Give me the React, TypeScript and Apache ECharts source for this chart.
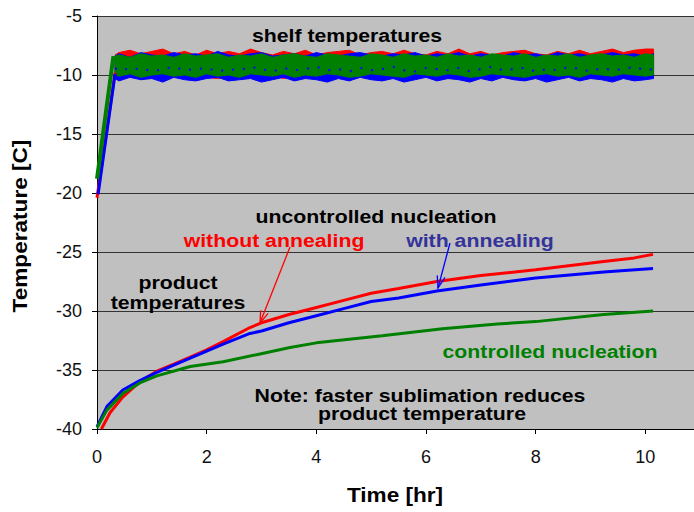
import React, { useEffect, useRef } from 'react';
import * as echarts from 'echarts';

// ---------- data ----------
const yMin = -40;
const yMax = -5;
const yStep = 5;
const xMin = 0;
const xMax = 12;
const xStep = 2;

// product temperatures
const redTime = [0.08, 0.24, 0.47, 0.78, 1.09, 1.4, 1.7, 2.0, 2.3, 2.79, 3.0, 3.5, 4.0, 4.5, 5.0, 5.5, 6.2, 7.0, 8.0, 9.24, 9.8, 10.14];
const redTemp = [-40, -38.6, -37.3, -36.0, -35.1, -34.5, -33.9, -33.3, -32.6, -31.4, -31.0, -30.3, -29.7, -29.1, -28.5, -28.1, -27.5, -27.0, -26.5, -25.8, -25.5, -25.2];

const blueTime = [0, 0.18, 0.47, 0.78, 1.09, 1.7, 2.3, 2.79, 3.0, 3.5, 4.0, 4.5, 5.0, 5.5, 6.2, 7.0, 8.0, 9.24, 10.14];
const blueTemp = [-39.8, -38.1, -36.7, -35.9, -35.2, -34.0, -32.8, -31.9, -31.7, -31.0, -30.4, -29.8, -29.2, -28.9, -28.3, -27.8, -27.2, -26.7, -26.4];

const greenTime = [0, 0.18, 0.47, 0.78, 1.09, 1.7, 2.3, 2.91, 3.52, 4.0, 5.2, 6.3, 7.3, 8.0, 9.24, 10.14];
const greenTemp = [-39.9, -38.4, -37.0, -36.1, -35.5, -34.7, -34.3, -33.7, -33.1, -32.7, -32.1, -31.5, -31.1, -30.9, -30.3, -30.0];

// shelf temperature ramps
const redRampTime = [0, 0.33];
const redRampTemp = [-20.4, -9.8];
const blueRampTime = [0.02, 0.33];
const blueRampTemp = [-20.1, -9.9];
const greenRampTime = [0, 0.3];
const greenRampTemp = [-18.8, -8.4];

// shelf temperature noise envelopes
const shelfTime = [0.33, 0.4, 0.6, 0.8, 1.0, 1.2, 1.4, 1.6, 1.8, 2.0, 2.2, 2.4, 2.6, 2.8, 3.0, 3.2, 3.4, 3.6, 3.8, 4.0, 4.2, 4.4, 4.6, 4.8, 5.0, 5.2, 5.4, 5.6, 5.8, 6.0, 6.2, 6.4, 6.6, 6.8, 7.0, 7.2, 7.4, 7.6, 7.8, 8.0, 8.2, 8.4, 8.6, 8.8, 9.0, 9.2, 9.4, 9.6, 9.8, 10.0, 10.15];
const redUpper = [-8.3, -8.1, -7.9, -8.2, -8.0, -7.8, -8.2, -8.0, -8.3, -7.9, -8.2, -8.0, -8.2, -7.8, -8.1, -8.3, -8.0, -8.2, -7.9, -8.3, -8.1, -8.0, -7.9, -8.3, -8.1, -8.0, -8.2, -7.9, -8.2, -8.3, -8.0, -8.2, -7.8, -8.2, -8.0, -8.3, -8.1, -8.0, -7.9, -8.2, -8.3, -8.0, -8.2, -7.9, -8.2, -8.0, -7.8, -8.1, -7.9, -7.8, -7.8];
const redLower = [-10.1, -10.0, -10.2, -10.1, -10.3, -10.0, -10.2, -10.1, -10.0, -10.2, -10.3, -10.1, -10.0, -10.2, -10.1, -10.0, -10.3, -10.1, -10.2, -10.0, -10.1, -10.2, -10.0, -10.1, -10.3, -10.2, -10.0, -10.1, -10.2, -10.0, -10.1, -10.3, -10.0, -10.2, -10.1, -10.0, -10.2, -10.3, -10.1, -10.0, -10.2, -10.1, -10.0, -10.2, -10.3, -10.1, -10.0, -10.2, -10.1, -10.0, -10.1];
const blueUpper = [-8.4, -8.2, -8.5, -8.1, -8.3, -8.4, -8.1, -8.3, -8.2, -8.4, -8.0, -8.3, -8.4, -8.2, -8.1, -8.4, -8.3, -8.2, -8.4, -8.1, -8.3, -8.4, -8.2, -8.1, -8.3, -8.4, -8.2, -8.3, -8.1, -8.4, -8.2, -8.3, -8.1, -8.4, -8.2, -8.3, -8.4, -8.1, -8.3, -8.2, -8.4, -8.1, -8.3, -8.2, -8.4, -8.3, -8.1, -8.3, -8.2, -8.4, -8.2];
const blueLower = [-10.3, -10.5, -10.2, -10.4, -10.3, -10.6, -10.2, -10.4, -10.5, -10.3, -10.2, -10.5, -10.4, -10.3, -10.6, -10.4, -10.2, -10.5, -10.3, -10.4, -10.6, -10.3, -10.5, -10.2, -10.4, -10.5, -10.3, -10.6, -10.4, -10.2, -10.5, -10.3, -10.4, -10.6, -10.3, -10.5, -10.2, -10.4, -10.5, -10.3, -10.6, -10.4, -10.2, -10.5, -10.3, -10.4, -10.6, -10.3, -10.5, -10.4, -10.3];
const greenUpper = [-8.4, -8.3, -8.5, -8.2, -8.4, -8.3, -8.5, -8.2, -8.4, -8.3, -8.2, -8.5, -8.3, -8.4, -8.2, -8.5, -8.3, -8.2, -8.4, -8.5, -8.2, -8.3, -8.4, -8.5, -8.2, -8.3, -8.5, -8.2, -8.4, -8.3, -8.5, -8.2, -8.4, -8.3, -8.5, -8.2, -8.3, -8.4, -8.2, -8.5, -8.3, -8.4, -8.2, -8.5, -8.3, -8.2, -8.4, -8.3, -8.5, -8.2, -8.3];
const greenLower = [-10.0, -10.1, -9.9, -10.2, -10.0, -9.9, -10.1, -10.0, -10.2, -9.9, -10.1, -10.0, -10.2, -9.9, -10.0, -10.1, -9.9, -10.2, -10.0, -10.1, -9.9, -10.0, -10.2, -10.1, -9.9, -10.0, -10.1, -10.2, -9.9, -10.0, -10.1, -9.9, -10.0, -10.2, -10.1, -9.9, -10.0, -10.1, -10.2, -10.0, -9.9, -10.1, -10.0, -10.2, -9.9, -10.0, -10.1, -9.9, -10.0, -10.1, -10.0];
const blueInner = [-9.5, -9.3, -9.6, -9.4, -9.7, -9.5, -9.3, -9.6, -9.5, -9.4, -9.7, -9.5, -9.6, -9.3, -9.5, -9.7, -9.4, -9.6, -9.5, -9.3, -9.6, -9.5, -9.7, -9.4, -9.6, -9.5, -9.3, -9.6, -9.7, -9.4, -9.5, -9.6, -9.4, -9.7, -9.5, -9.3, -9.6, -9.5, -9.4, -9.7, -9.5, -9.6, -9.3, -9.5, -9.7, -9.4, -9.6, -9.5, -9.3, -9.6, -9.5];

// ---------- styling ----------
const RED = '#ff0000';
const BLUE = '#0000ff';
const GREEN = '#008000';
const FONT = '"Liberation Sans", Arial, sans-serif';

const pairs = (t: number[], v: number[]) => t.map((x, i) => [x, v[i]]);

function bandSeries(name: string, upper: number[], lower: number[], color: string, z: number) {
  return {
    type: 'custom',
    name,
    silent: true,
    clip: true,
    z,
    data: [[shelfTime[0], upper[0]]],
    renderItem: (_params: any, api: any) => {
      const top = shelfTime.map((t, i) => api.coord([t, upper[i]]));
      const bottom = shelfTime.map((t, i) => api.coord([t, lower[i]]));
      const points = top.concat(bottom.reverse());
      return { type: 'polygon', shape: { points }, style: { fill: color, stroke: color, lineWidth: 1 } };
    },
  };
}

function lineSeries(name: string, t: number[], v: number[], color: string, width: number, z: number, extra: any = {}) {
  return {
    type: 'line',
    name,
    data: pairs(t, v),
    showSymbol: false,
    symbol: 'none',
    silent: true,
    z,
    lineStyle: { color, width, ...extra },
  };
}

function label(text: string, x: number, y: number, fill: string, size = 19, sx = 1.12) {
  return {
    type: 'text',
    x,
    y,
    scaleX: sx,
    z: 100,
    style: {
      text,
      fill,
      font: `bold ${size}px ${FONT}`,
      textAlign: 'center',
      textVerticalAlign: 'middle',
    },
  };
}

function arrow(x1: number, y1: number, x2: number, y2: number, color: string) {
  const dx = x2 - x1;
  const dy = y2 - y1;
  const len = Math.sqrt(dx * dx + dy * dy);
  const ux = dx / len;
  const uy = dy / len;
  const bx = x2 - 12 * ux;
  const by = y2 - 12 * uy;
  const nx = -uy;
  const ny = ux;
  return [
    { type: 'line', z: 100, shape: { x1, y1, x2, y2 }, style: { stroke: color, lineWidth: 1.3 } },
    {
      type: 'polyline',
      z: 100,
      shape: { points: [[bx + 4 * nx, by + 4 * ny], [x2, y2], [bx - 4 * nx, by - 4 * ny]] },
      style: { stroke: color, lineWidth: 1.3, fill: 'none' },
    },
  ];
}

export default function App() {
  const ref = useRef<HTMLDivElement>(null);

  useEffect(() => {
    document.body.style.margin = '0';
    if (!ref.current) return;
    const chart = echarts.init(ref.current, undefined, { renderer: 'svg' });
    const option: any = {
      animation: false,
      backgroundColor: '#ffffff',
      grid: {
        left: 97,
        top: 16,
        width: 658,
        height: 413,
        show: true,
        backgroundColor: '#c0c0c0',
        borderWidth: 0,
        outerBoundsMode: 'none',
        containLabel: false,
      },
      xAxis: {
        type: 'value',
        min: xMin,
        max: xMax,
        interval: xStep,
        axisLine: { show: true, onZero: false, lineStyle: { color: '#000', width: 1 } },
        axisTick: { show: true, length: 5, lineStyle: { color: '#000' } },
        axisLabel: {
          fontSize: 18,
          fontFamily: FONT,
          color: '#111',
          margin: 19,
          formatter: (v: number) => (v > 10 ? '' : String(v)),
        },
        splitLine: { show: false },
      },
      yAxis: {
        type: 'value',
        min: yMin,
        max: yMax,
        interval: yStep,
        axisLine: { show: true, lineStyle: { color: '#000', width: 1 } },
        axisTick: { show: true, length: 5, lineStyle: { color: '#000' } },
        axisLabel: { fontSize: 18, fontFamily: FONT, color: '#111', margin: 15 },
        splitLine: { show: true, lineStyle: { color: '#333', width: 1 } },
      },
      series: [
        bandSeries('shelf red', redUpper, redLower, RED, 2),
        bandSeries('shelf blue', blueUpper, blueLower, BLUE, 3),
        bandSeries('shelf green', greenUpper, greenLower, GREEN, 4),
        lineSeries('shelf blue inner', shelfTime, blueInner, BLUE, 2, 5, { type: [2, 9] }),
        lineSeries('ramp red', redRampTime, redRampTemp, RED, 3, 6),
        lineSeries('ramp blue', blueRampTime, blueRampTemp, BLUE, 3, 7),
        lineSeries('ramp green', greenRampTime, greenRampTemp, GREEN, 4, 8),
        lineSeries('without annealing', redTime, redTemp, RED, 3, 9),
        lineSeries('with annealing', blueTime, blueTemp, BLUE, 3, 10),
        lineSeries('controlled nucleation', greenTime, greenTemp, GREEN, 3, 11),
      ],
      graphic: [
        label('shelf temperatures', 347, 35, '#000'),
        label('uncontrolled nucleation', 376, 216, '#000'),
        label('without annealing', 274, 240, RED),
        label('with annealing', 480, 240, '#333399'),
        label('product', 178, 282, '#000'),
        label('temperatures', 178, 302, '#000'),
        label('controlled nucleation', 550, 351, GREEN),
        label('Note: faster sublimation reduces', 420, 395, '#000'),
        label('product temperature', 422, 413, '#000'),
        ...arrow(290, 247, 260, 323, RED),
        ...arrow(450, 243, 438, 288, BLUE),
        label('Time [hr]', 395, 495, '#000', 20, 1.13),
        {
          type: 'text',
          x: 20,
          y: 226,
          rotation: Math.PI / 2,
          scaleX: 1.13,
          z: 100,
          style: {
            text: 'Temperature [C]',
            fill: '#000',
            font: `bold 20px ${FONT}`,
            textAlign: 'center',
            textVerticalAlign: 'middle',
          },
        },
      ],
    };
    chart.setOption(option);
    return () => chart.dispose();
  }, []);

  return <div ref={ref} style={{ width: 694, height: 512 }} />;
}
